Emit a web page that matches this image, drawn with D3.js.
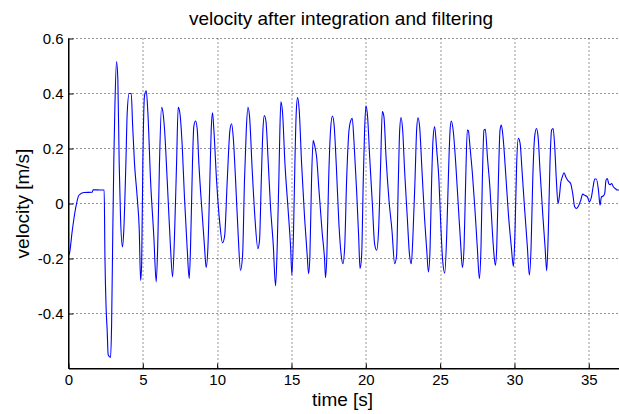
<!DOCTYPE html>
<html>
<head>
<meta charset="utf-8">
<script src="https://cdn.jsdelivr.net/npm/d3@7"></script>
<style>
    body { margin: 0; background: #fff; }
    text { font-family: "Liberation Sans", Arial, Helvetica, sans-serif; fill: #000; }
</style>
</head>
<body>
<svg id="graph"></svg>
<script>
var chartTitle = "velocity after integration and filtering";
var xLabel = "time [s]";
var yLabel = "velocity [m/s]";
var xTicks = [0, 5, 10, 15, 20, 25, 30, 35];
var yTicks = [-0.4, -0.2, 0, 0.2, 0.4, 0.6];

var time = [
    0.00, 0.07, 0.25, 0.47, 0.70, 1.03, 1.60, 1.65, 2.15, 2.40,
    2.45, 2.53, 2.60, 2.67, 2.83, 2.90, 2.98, 3.05, 3.12, 3.23,
    3.32, 3.41, 3.50, 3.63, 3.72, 3.86, 3.95, 4.08, 4.22, 4.31,
    4.44, 4.62, 4.76, 4.85, 4.92, 5.00, 5.11, 5.23, 5.34, 5.52,
    5.74, 5.90, 6.00, 6.12, 6.26, 6.33, 6.46, 6.64, 6.86, 7.00,
    7.13, 7.27, 7.38, 7.49, 7.65, 7.80, 7.99, 8.12, 8.21, 8.34,
    8.43, 8.55, 8.66, 8.77, 8.99, 9.15, 9.26, 9.38, 9.51, 9.60,
    9.69, 9.78, 9.96, 10.18, 10.36, 10.50, 10.68, 10.86, 10.97, 11.08,
    11.24, 11.42, 11.57, 11.71, 11.84, 11.96, 12.07, 12.18, 12.36, 12.54,
    12.74, 12.85, 12.97, 13.08, 13.17, 13.28, 13.44, 13.59, 13.77, 13.93,
    14.04, 14.15, 14.22, 14.29, 14.40, 14.56, 14.76, 14.94, 15.03, 15.14,
    15.23, 15.32, 15.41, 15.52, 15.68, 15.88, 16.06, 16.15, 16.24, 16.35,
    16.46, 16.55, 16.69, 16.85, 17.07, 17.23, 17.29, 17.38, 17.50, 17.63,
    17.75, 17.86, 18.01, 18.19, 18.35, 18.46, 18.58, 18.71, 18.87, 18.98,
    19.09, 19.20, 19.38, 19.52, 19.61, 19.72, 19.83, 19.92, 20.01, 20.12,
    20.26, 20.44, 20.59, 20.73, 20.86, 21.00, 21.11, 21.22, 21.36, 21.56,
    21.76, 21.94, 22.07, 22.19, 22.28, 22.37, 22.48, 22.61, 22.79, 22.93,
    23.06, 23.17, 23.31, 23.42, 23.51, 23.62, 23.78, 23.96, 24.10, 24.21,
    24.32, 24.43, 24.52, 24.63, 24.77, 24.92, 25.04, 25.17, 25.31, 25.44,
    25.55, 25.67, 25.75, 25.87, 26.05, 26.27, 26.38, 26.50, 26.61, 26.72,
    26.83, 26.90, 27.01, 27.17, 27.33, 27.50, 27.64, 27.75, 27.84, 27.95,
    28.04, 28.18, 28.36, 28.51, 28.63, 28.72, 28.81, 28.92, 29.03, 29.12,
    29.23, 29.41, 29.59, 29.79, 29.93, 30.04, 30.15, 30.26, 30.38, 30.51,
    30.69, 30.87, 31.00, 31.12, 31.23, 31.36, 31.48, 31.59, 31.72, 31.90,
    32.06, 32.17, 32.28, 32.39, 32.50, 32.60, 32.71, 32.82, 32.93, 33.02,
    33.11, 33.22, 33.34, 33.45, 33.60, 33.78, 33.92, 34.05, 34.17, 34.28,
    34.46, 34.59, 34.73, 34.91, 35.04, 35.18, 35.29, 35.40, 35.51, 35.65,
    35.76, 35.85, 35.98, 36.07, 36.16, 36.25, 36.34, 36.43, 36.54, 36.66,
    36.77, 36.93, 37.08
];

var velocity = [
    -0.19, -0.18, -0.10, -0.02, 0.03, 0.040, 0.041, 0.050, 0.049, 0.049,
    -0.19, -0.38, -0.46, -0.55, -0.56, -0.44, -0.10, 0.16, 0.35, 0.516,
    0.45, 0.146, -0.05, -0.158, -0.097, 0.146, 0.33, 0.40, 0.40, 0.29,
    0.146, 0.024, -0.097, -0.28, -0.22, 0.146, 0.39, 0.41, 0.33, 0.085,
    -0.12, -0.285, -0.158, 0.146, 0.35, 0.34, 0.27, 0.085, -0.158, -0.267,
    -0.12, 0.146, 0.35, 0.33, 0.21, 0.024, -0.17, -0.273, -0.158, 0.146,
    0.28, 0.30, 0.27, 0.146, -0.036, -0.158, -0.233, -0.158, 0.085, 0.267,
    0.33, 0.267, 0.085, -0.073, -0.143, -0.12, 0.085, 0.267, 0.29, 0.243,
    0.085, -0.12, -0.243, -0.19, 0.085, 0.267, 0.35, 0.316, 0.12, -0.05,
    -0.164, -0.134, 0.085, 0.267, 0.32, 0.30, 0.146, -0.012, -0.146, -0.30,
    -0.158, 0.085, 0.267, 0.37, 0.33, 0.146, -0.012, -0.158, -0.26, -0.097,
    0.146, 0.33, 0.385, 0.34, 0.146, -0.05, -0.19, -0.255, -0.19, 0.085,
    0.23, 0.213, 0.17, 0.049, -0.109, -0.206, -0.27, -0.19, 0.085, 0.267,
    0.318, 0.29, 0.146, -0.073, -0.19, -0.219, -0.158, 0.085, 0.267, 0.30,
    0.31, 0.23, 0.049, -0.12, -0.237, -0.19, 0.085, 0.267, 0.355, 0.316,
    0.17, 0.0, -0.146, -0.17, -0.097, 0.146, 0.334, 0.316, 0.17, 0.012,
    -0.097, -0.219, -0.19, 0.085, 0.267, 0.313, 0.267, 0.12, -0.05, -0.18,
    -0.219, -0.12, 0.085, 0.267, 0.312, 0.28, 0.12, -0.06, -0.17, -0.249,
    -0.17, 0.085, 0.23, 0.28, 0.195, 0.085, -0.073, -0.206, -0.253, -0.12,
    0.085, 0.267, 0.30, 0.27, 0.146, -0.05, -0.146, -0.233, -0.158, 0.085,
    0.267, 0.265, 0.206, 0.11, -0.012, -0.158, -0.273, -0.158, 0.085, 0.267,
    0.27, 0.17, 0.049, -0.097, -0.19, -0.225, -0.158, 0.085, 0.267, 0.285,
    0.243, 0.11, -0.036, -0.158, -0.23, -0.097, 0.146, 0.237, 0.219, 0.12,
    -0.024, -0.158, -0.26, -0.158, 0.085, 0.243, 0.273, 0.243, 0.12, -0.036,
    -0.158, -0.245, -0.097, 0.146, 0.267, 0.273, 0.206, 0.085, 0.0, 0.024,
    0.073, 0.097, 0.112, 0.097, 0.083, 0.073, 0.036, -0.012, -0.018, -0.012,
    0.012, 0.034, 0.030, 0.024, 0.006, 0.024, 0.060, 0.089, 0.089, 0.049,
    -0.006, 0.024, 0.028, 0.036, 0.085, 0.091, 0.073, 0.068, 0.073, 0.060,
    0.055, 0.049, 0.049
];

var W = 619, H = 414;
var margin = {top: 38.5, left: 68.5};
var width = 550, height = 330;

var x = d3.scaleLinear().domain([0, 37]).range([0, width]);
var y = d3.scaleLinear().domain([-0.6, 0.6]).range([height, 0]);

var svg = d3.select("#graph")
    .attr("width", W)
    .attr("height", H)
    .append("g")
    .attr("transform", "translate(" + margin.left + "," + margin.top + ")");

// dotted grid
svg.append("g")
    .selectAll("line")
    .data(xTicks.filter(function (d) { return d > 0; }))
    .enter().append("line")
    .attr("x1", function (d) { return Math.round(x(d)) + 0.5; })
    .attr("x2", function (d) { return Math.round(x(d)) + 0.5; })
    .attr("y1", 0)
    .attr("y2", height)
    .attr("stroke", "#333")
    .attr("stroke-dasharray", "1,3");
svg.append("g")
    .selectAll("line")
    .data(yTicks)
    .enter().append("line")
    .attr("x1", 0)
    .attr("x2", W)
    .attr("y1", function (d) { return Math.round(y(d)); })
    .attr("y2", function (d) { return Math.round(y(d)); })
    .attr("stroke", "#333")
    .attr("stroke-dasharray", "1,3");

// the signal
var pts = time.map(function (t, i) { return [t, velocity[i]]; });
var line = d3.line()
    .x(function (d) { return x(d[0]); })
    .y(function (d) { return y(d[1]); })
    .curve(d3.curveMonotoneX);
svg.append("path")
    .datum(pts)
    .attr("fill", "none")
    .attr("stroke", "#0000ff")
    .attr("stroke-width", 1.1)
    .attr("d", line);

// axes
var xAxis = svg.append("g")
    .attr("transform", "translate(0," + height + ")")
    .call(d3.axisBottom(x).tickValues(xTicks).tickSizeInner(-5).tickSizeOuter(0).tickPadding(6)
        .tickFormat(function (d) { return String(d); }));
var yAxis = svg.append("g")
    .call(d3.axisLeft(y).tickValues(yTicks).tickSizeInner(-5).tickSizeOuter(0).tickPadding(5)
        .tickFormat(function (d) { return String(Math.round(d * 10) / 10); }));
[xAxis, yAxis].forEach(function (a) {
    a.selectAll("path, line").attr("stroke", "#000");
    a.selectAll("text").style("font-size", "15px").attr("fill", "#000");
    a.attr("font-family", null);
});
svg.append("line")
    .attr("x1", 0).attr("x2", 0)
    .attr("y1", 0).attr("y2", height)
    .attr("stroke", "#000");
svg.append("line")
    .attr("x1", 0).attr("x2", W)
    .attr("y1", height).attr("y2", height)
    .attr("stroke", "#000");

// labels
svg.append("text")
    .attr("x", 272.5)
    .attr("y", 25 - margin.top)
    .attr("text-anchor", "middle")
    .style("font-size", "19px")
    .text(chartTitle);
svg.append("text")
    .attr("x", 274)
    .attr("y", 406 - margin.top)
    .attr("text-anchor", "middle")
    .style("font-size", "19px")
    .text(xLabel);
svg.append("text")
    .attr("transform", "translate(" + (29 - margin.left) + "," + y(0) + ") rotate(-90)")
    .attr("text-anchor", "middle")
    .style("font-size", "19px")
    .text(yLabel);
</script>
</body>
</html>
